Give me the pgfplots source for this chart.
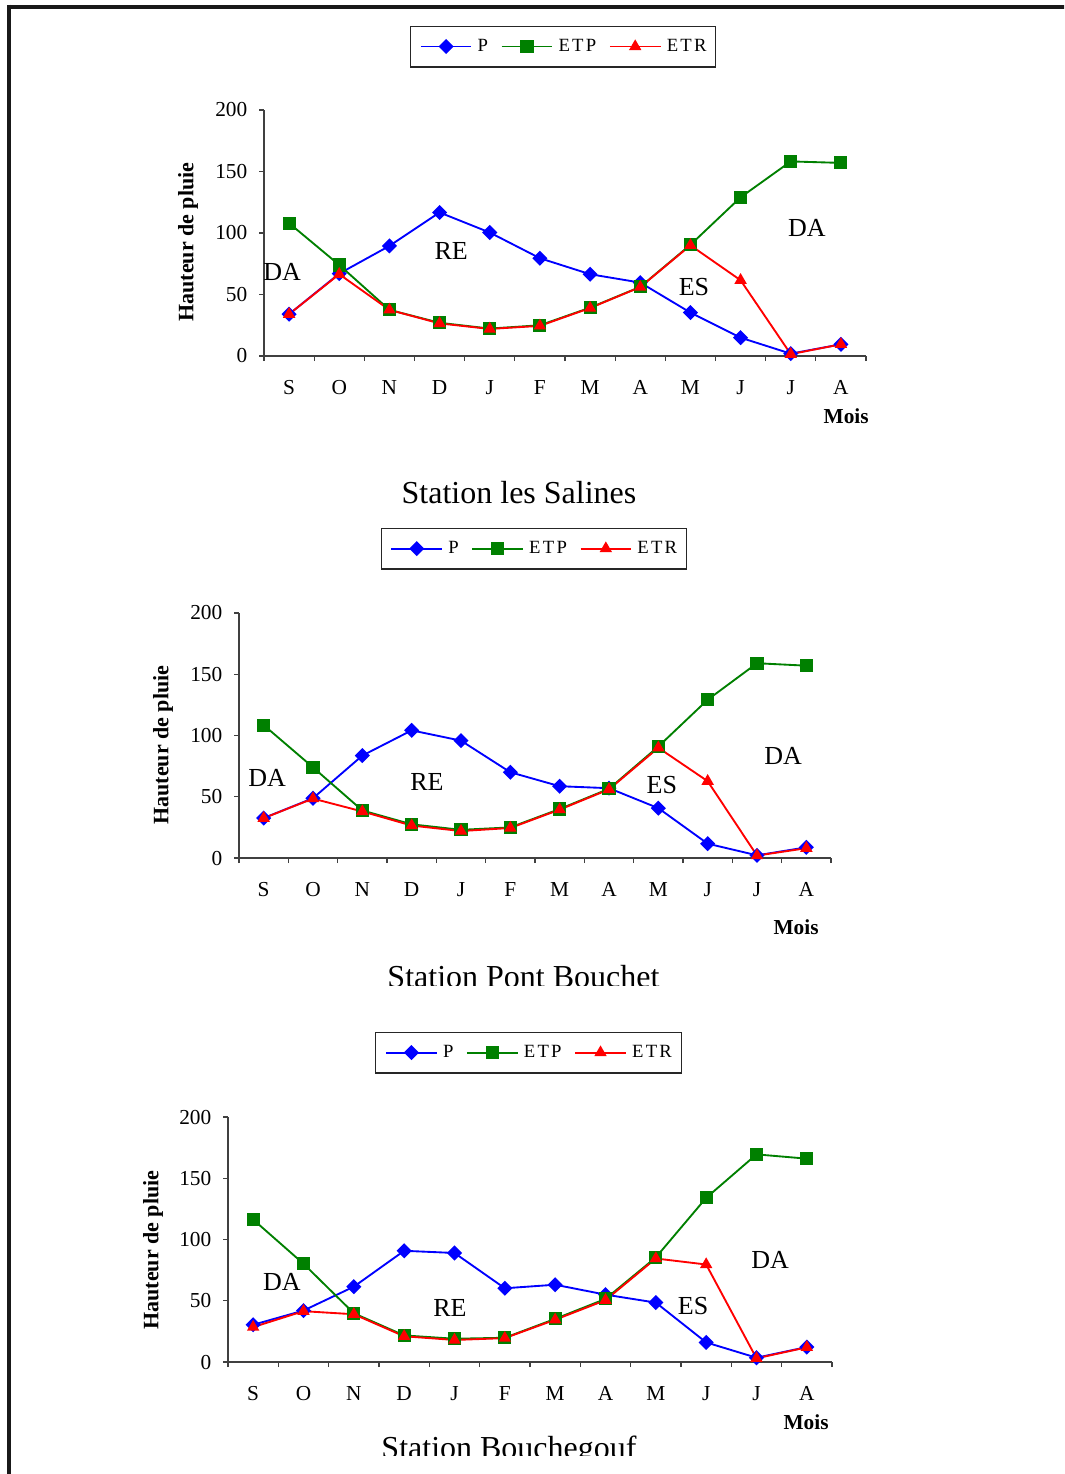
\documentclass[border=0pt]{standalone}
\usepackage{fontspec}
\setmainfont{Liberation Serif}
\newfontfamily\legfont[LetterSpace=12]{Liberation Serif}
\usepackage{pgfplots}
\pgfplotsset{compat=1.18}

\definecolor{cP}{RGB}{0,0,255}
\definecolor{cETP}{RGB}{0,128,0}
\definecolor{cETR}{RGB}{255,0,0}

\tikzset{lab/.style={font=\fontsize{19.5}{19.5}\selectfont}}

\pgfplotsset{
  hstyle/.style={
    scale only axis, clip=false,
    axis lines*=left,
    axis line style={black!75,line width=0.8pt},
    every tick/.style={black!75,line width=0.8pt},
    xmin=-0.5, xmax=11.5, ymin=0, ymax=200,
    xtick={0,1,2,3,4,5,6,7,8,9,10,11},
    xticklabels={S,O,N,D,J,F,M,A,M,J,J,A},
    minor xtick={-0.5,0.5,...,11.5},
    ytick={0,50,100,150,200},
    minor ytick={0,50,100,150,200},
    tick align=outside,
    major tick length=0pt,
    minor tick length=3.75pt,
    /pgf/number format/assume math mode=true,
    xticklabel style={font=\fontsize{16}{16}\selectfont, anchor=base, yshift=-29pt},
    yticklabel style={font=\fontsize{16}{16}\selectfont, anchor=east, xshift=-9pt},
    ylabel={Hauteur de pluie},
    xlabel={Mois},
    legend columns=3,
    legend cell align=left,
    legend style={anchor=center, draw=black!85, line width=0.8pt,
      font=\legfont\fontsize{14}{14}\selectfont,
      nodes={inner sep=0pt},
      inner ysep=10pt, inner xsep=7pt,
      /tikz/every odd column/.append style={column sep=4pt},
      /tikz/every even column/.append style={column sep=9.5pt}},
    legend image code/.code={\draw[mark repeat=2,mark phase=2] plot coordinates {(0pt,0pt) (19pt,0pt) (38pt,0pt)};},
  },
  pP/.style={cP, line width=1.4pt, mark=square*, mark size=3.3pt, mark options={solid,fill=cP,rotate=45}},
  pETP/.style={cETP, line width=1.4pt, mark=square*, mark size=4.2pt, mark options={solid,fill=cETP}},
  pETR/.style={cETR, line width=1.4pt, mark=triangle*, mark size=4pt, mark options={solid,fill=cETR}},
}

\pgfplotstableread{
x P ETP ETR
0 34 108 34
1 67 74 66.5
2 89.5 37.5 37.5
3 116.7 27 26.5
4 100.4 22.3 22
5 79.5 25 24.5
6 66.5 39.3 39
7 59.7 56.2 56
8 35.3 90.4 90
9 14.9 129 61.6
10 1.9 158.2 1.5
11 9.5 157 9.5
}\tabA

\pgfplotstableread{
x P ETP ETR
0 32.6 108.5 32.5
1 48.8 74 48.5
2 83.6 38.8 38
3 104.2 27.5 26.5
4 95.8 23 22
5 70 25 24.5
6 58.6 40 39.5
7 57 56.5 56
8 40.7 91 90
9 11.7 129.2 62.7
10 2.2 159 2
11 8.7 157 8
}\tabB

\pgfplotstableread{
x P ETP ETR
0 30.4 116.3 28.5
1 42 80.2 41.5
2 61.5 39.8 39
3 90.8 21.7 21
4 89 19 18
5 60.2 19.8 19.5
6 63.1 35.2 34.5
7 55 51.5 50.5
8 48.5 85.4 84.5
9 16 134 79.6
10 3.5 169.5 3
11 12.2 166 12
}\tabC

\begin{document}
\begin{tikzpicture}
\useasboundingbox (0,0) rectangle (798pt,-1105.5pt);
\clip (0,0) rectangle (798pt,-1105.5pt);
\fill[white] (0,0) rectangle (798pt,-1105.5pt);
% frame
\draw[line width=3.2pt, black!90] (6.75pt,-5.25pt) -- (800pt,-5.25pt);
\draw[line width=3.4pt, black!90] (6.75pt,-3.5pt) -- (6.75pt,-1110pt);

% ---------- Chart 1 ----------
\begin{axis}[hstyle,
  at={(198pt,-267pt)}, anchor=south west,
  width=451.5pt, height=184.5pt,
  legend style={at={(0.497,1.258)}},
  ylabel style={font=\bfseries\fontsize{16.5}{16.5}\selectfont, at={([xshift=-57pt]axis description cs:0,0.463)}, anchor=center},
  xlabel style={font=\bfseries\fontsize{16}{16}\selectfont, at={([yshift=-45pt]axis description cs:0.967,0)}, anchor=center},
]
\addplot[pP] table[x=x,y=P] {\tabA};
\addplot[pETP] table[x=x,y=ETP] {\tabA};
\addplot[pETR] table[x=x,y=ETR] {\tabA};
\legend{P,ETP,ETR}
\node[lab] at (axis cs:-0.14,68.3) {DA};
\node[lab] at (axis cs:3.23,85.4) {RE};
\node[lab] at (axis cs:8.07,56) {ES};
\node[lab] at (axis cs:10.32,104) {DA};
\end{axis}
\node[font=\fontsize{24}{24}\selectfont, anchor=base] at (389.25pt,-377.25pt) {Station les Salines};

% ---------- Chart 2 ----------
\begin{axis}[hstyle,
  at={(179.25pt,-643.5pt)}, anchor=south west,
  width=444pt, height=183.75pt,
  legend style={at={(0.498,1.263)}},
  ylabel style={font=\bfseries\fontsize{16.5}{16.5}\selectfont, at={([xshift=-57pt]axis description cs:0,0.461)}, anchor=center},
  xlabel style={font=\bfseries\fontsize{16}{16}\selectfont, at={([yshift=-51.75pt]axis description cs:0.941,0)}, anchor=center},
]
\addplot[pP] table[x=x,y=P] {\tabB};
\addplot[pETP] table[x=x,y=ETP] {\tabB};
\addplot[pETR] table[x=x,y=ETR] {\tabB};
\legend{P,ETP,ETR}
\node[lab] at (axis cs:0.07,65.3) {DA};
\node[lab] at (axis cs:3.31,62) {RE};
\node[lab] at (axis cs:8.07,59.6) {ES};
\node[lab] at (axis cs:10.53,83.3) {DA};
\end{axis}
\node[font=\fontsize{24}{24}\selectfont, anchor=base] at (392.6pt,-740.25pt) {Station Pont Bouchet};
\fill[white] (280pt,-739.5pt) rectangle (510pt,-746pt);

% ---------- Chart 3 ----------
\begin{axis}[hstyle,
  at={(171pt,-1021.5pt)}, anchor=south west,
  width=453pt, height=183.75pt,
  legend style={at={(0.4975,1.263)}},
  ylabel style={font=\bfseries\fontsize{16.5}{16.5}\selectfont, at={([xshift=-56.25pt]axis description cs:0,0.457)}, anchor=center},
  xlabel style={font=\bfseries\fontsize{16}{16}\selectfont, at={([yshift=-45pt]axis description cs:0.957,0)}, anchor=center},
]
\addplot[pP] table[x=x,y=P] {\tabC};
\addplot[pETP] table[x=x,y=ETP] {\tabC};
\addplot[pETR] table[x=x,y=ETR] {\tabC};
\legend{P,ETP,ETR}
\node[lab] at (axis cs:0.57,65.3) {DA};
\node[lab] at (axis cs:3.91,44) {RE};
\node[lab] at (axis cs:8.74,45.7) {ES};
\node[lab] at (axis cs:10.27,83.3) {DA};
\end{axis}
\node[font=\fontsize{24}{24}\selectfont, anchor=base] at (381.75pt,-1093.5pt) {Station Bouchegouf};
\fill[white] (270pt,-1092pt) rectangle (495pt,-1100pt);
\end{tikzpicture}
\end{document}
